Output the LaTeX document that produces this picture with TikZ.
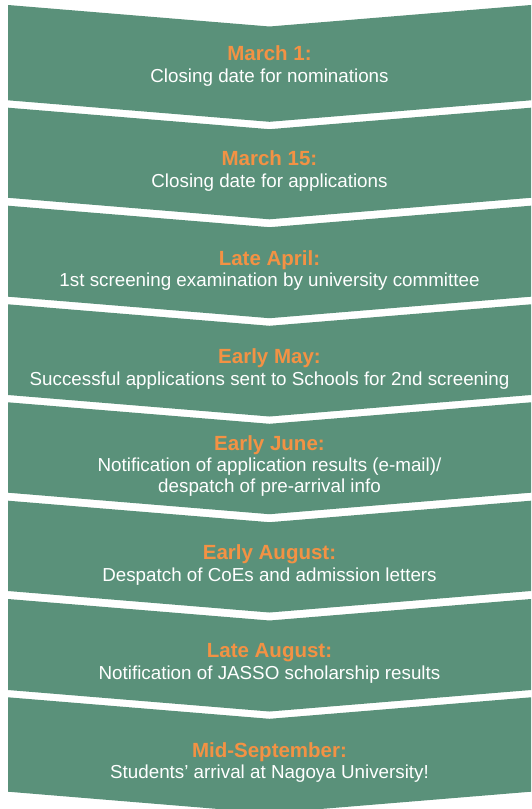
\documentclass[tikz,border=0pt]{standalone}
\usepackage{fontspec}
\setmainfont{Liberation Sans}
\definecolor{stepgreen}{HTML}{5A917A}
\definecolor{steporange}{HTML}{F39244}
\tikzset{
  blk/.style={fill=stepgreen},
  when/.style={anchor=base,text=steporange,inner sep=0pt,
    font=\bfseries\fontsize{20.5}{24}\selectfont},
  what/.style={anchor=base,text=white,inner sep=0pt,
    font=\fontsize{18.8}{22}\selectfont},
}
\begin{document}
\begin{tikzpicture}[x=1pt,y=-1pt]
        \useasboundingbox (0,0) rectangle (531,809);
        %% Chevron blocks
        \foreach \t/\b in {5/100.3,107.7/197.8,205.7/296.7,304.3/395,
                           402.3/492.7,500.7/591,599/690,697.3/791.7}{
          \fill[blk] (8,\t) -- (269.5,\t+21.5) -- (531,\t) -- (531,\b)
                     -- (269.5,\b+21.5) -- (8,\b) -- cycle;
        }
        %% March 1
        \node[when] (mar1) at (269.5,60) {March 1:};
        \node[what] (mar1t) at (269.5,82) {Closing date for nominations};
        %% March 15
        \node[when] (mar15) at (269.5,165) {March 15:};
        \node[what] (mar15t) at (269.5,187) {Closing date for applications};
        %% Late April
        \node[when] (apr) at (269.5,265) {Late April:};
        \node[what] (aprt) at (269.5,286) {1st screening examination by university committee};
        %% Early May
        \node[when] (may) at (269.5,363) {Early May:};
        \node[what] (mayt) at (269.5,385) {Successful applications sent to Schools for 2nd screening};
        %% Early June
        \node[when] (jun) at (269.5,450.5) {Early June:};
        \node[what] (junt) at (269.5,471.5) {Notification of application results (e-mail)/};
        \node[what] (junu) at (269.5,492.5) {despatch of pre-arrival info};
        %% Early August
        \node[when] (aug) at (269.5,559) {Early August:};
        \node[what] (augt) at (269.5,581) {Despatch of CoEs and admission letters};
        %% Late August
        \node[when] (laug) at (269.5,657) {Late August:};
        \node[what] (laugt) at (269.5,679) {Notification of JASSO scholarship results};
        %% Mid-September
        \node[when] (sep) at (269.5,757.5) {Mid-September:};
        \node[what] (sept) at (269.5,778.5) {Students’ arrival at Nagoya University!};
    \end{tikzpicture}
\end{document}
